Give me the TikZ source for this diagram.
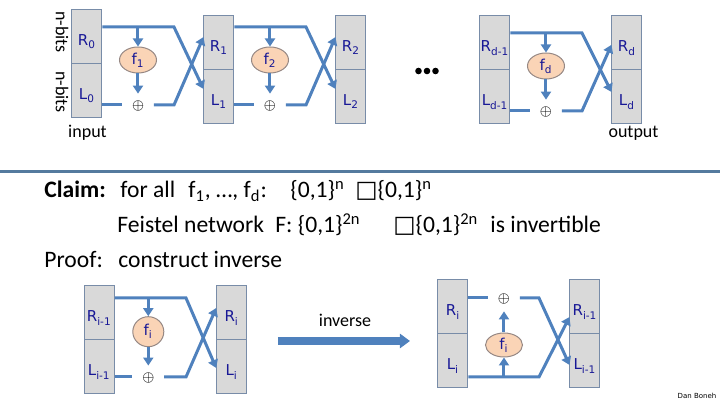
\documentclass[tikz,border=0pt]{standalone}
\usepackage{fontspec}
\setmainfont{Carlito}
\newfontfamily\regfont{DejaVu Sans}
\usepackage{xcolor}
\usetikzlibrary{positioning,arrows.meta,shapes.geometric,calc}

\definecolor{wireblue}{RGB}{79,129,189}
\definecolor{regfill}{RGB}{217,217,217}
\definecolor{regedge}{RGB}{120,140,168}
\definecolor{regtext}{RGB}{24,24,150}
\definecolor{ffill}{RGB}{250,212,182}
\definecolor{fedge}{RGB}{150,136,132}
\definecolor{sepblue}{RGB}{84,122,158}

\tikzset{
  reg/.style={draw=regedge, fill=regfill, line width=0.5pt,
              minimum width=15pt, minimum height=27pt, inner sep=0pt,
              text=regtext, font=\regfont\fontsize{7.5}{8}\selectfont,
              text height=9pt, text depth=0pt},
  fnode/.style={ellipse, draw=fedge, fill=ffill, line width=0.5pt,
                minimum width=18.5pt, minimum height=13pt, inner sep=0pt,
                text=regtext, font=\regfont\fontsize{7.5}{8}\selectfont},
  xor/.style={minimum width=15.5pt, minimum height=12pt, inner sep=0pt,
              font=\fontsize{7}{8}\selectfont},
  wire/.style={draw=wireblue, line width=1.5pt},
  arr/.style={wire, -{Triangle[length=4pt,width=5pt]}},
  claim/.style={anchor=base west, inner sep=0pt,
                font=\fontsize{11.8}{14}\selectfont},
  note/.style={inner sep=0pt, font=\fontsize{9}{10}\selectfont}
}

\begin{document}
\begin{tikzpicture}[x=0.5pt,y=-0.5pt]
  \useasboundingbox (0,0) rectangle (720,405);

  % forward network
  \node[note, rotate=-90] (nbr) at (62,32) {n-bits};
  \node[note, rotate=-90] (nbl) at (62,92) {n-bits};
  \node[reg] (r0) at (87,37) {R\textsubscript{0}};
  \node[reg] (l0) at (87,91) {L\textsubscript{0}};
  \node[reg] (r1) at (219,43) {R\textsubscript{1}};
  \node[reg] (l1) at (219,97) {L\textsubscript{1}};
  \node[reg] (r2) at (351,43) {R\textsubscript{2}};
  \node[reg] (l2) at (351,97) {L\textsubscript{2}};
  \node[reg] (rp) at (495,43) {R\textsubscript{d-1}};
  \node[reg] (lp) at (495,97) {L\textsubscript{d-1}};
  \node[reg] (rd) at (627,43) {R\textsubscript{d}};
  \node[reg] (ld) at (627,97) {L\textsubscript{d}};
  \node[note] (in) at (87.5,133) {input};
  \node[note] (out) at (633.5,133) {output};

  \foreach \a/\b/\k/\x/\dy in {0/1/1/102/0, 1/2/2/234/0, p/d/d/510/6} {
    \node[fnode] (f\k) at (\x+36,60+\dy) {f\textsubscript{\k}};
    \node[xor] (x\k) at (\x+36,106+\dy) {$\oplus$};
    \coordinate (tb\k) at (\x+72,27+\dy);
    \coordinate (bb\k) at (\x+72,105+\dy);
    \draw[arr] (r\a.east |- tb\k) -- (tb\k) -- ($(l\b.west)+(0,-8+0.5*\dy)$);
    \draw[arr] (f\k |- tb\k) -- (f\k.north);
    \draw[arr] (f\k.south) -- (x\k.north);
    \draw[wire] (l\a.east |- bb\k) -- (x\k.west |- bb\k);
    \draw[arr] (x\k.east |- bb\k) -- (bb\k) -- ($(r\b.west)+(0,-6+1.3*\dy)$);
  }
  \foreach \i in {0,1,2}
    \fill (418.5+8.5*\i,71) circle (3.3);

  % separator
  \coordinate (sepl) at (0,172);
  \coordinate (sepr) at (720,172);
  \draw[sepblue, line width=1.5pt] (sepl) -- (sepr);

  % claim
  \node[claim] (c1) at (44,198) {\textbf{Claim:}};
  \node[claim] (c2) at (120,198) {for all};
  \node[claim] (c3) at (188,198) {f\textsubscript{1}, …, f\textsubscript{d}:};
  \node[claim] (c4) at (290,198) {\{0,1\}\textsuperscript{n}};
  \node[claim] (c5) at (355,198) {{\regfont □}\{0,1\}\textsuperscript{n}};
  \node[claim] (c6) at (117,233) {Feistel network};
  \node[claim] (c7) at (275,233) {F: \{0,1\}\textsuperscript{2n}};
  \node[claim] (c8) at (393,233) {{\regfont □}\{0,1\}\textsuperscript{2n}};
  \node[claim] (c9) at (490,233) {is invertible};
  \node[claim] (c10) at (44,268) {Proof:};
  \node[claim] (c11) at (118,268) {construct inverse};

  % one round
  \node[reg] (ra) at (99.3,313) {R\textsubscript{i-1}};
  \node[reg] (la) at (99.3,367) {L\textsubscript{i-1}};
  \node[reg] (rb) at (231.7,313) {R\textsubscript{i}};
  \node[reg] (lb) at (231.7,367) {L\textsubscript{i}};
  \node[fnode, minimum width=15.5pt, minimum height=15pt] (fa) at (148.3,331.7) {f\textsubscript{i}};
  \node[xor] (xa) at (148.3,378) {$\oplus$};
  \coordinate (ta) at (186,298);
  \coordinate (ba) at (186,377);
  \draw[arr] (ra.east |- ta) -- (ta) -- ($(lb.west)+(0,1)$);
  \draw[arr] (fa |- ta) -- (fa.north);
  \draw[arr] (fa.south) -- (xa.north);
  \draw[wire] (la.east |- ba) -- (xa.west |- ba);
  \draw[arr] (xa.east |- ba) -- (ba) -- ($(rb.west)+(0,-5)$);

  % inverse arrow
  \node[note] (inv) at (345,320) {inverse};
  \coordinate (inva) at (278,341);
  \coordinate (invb) at (410,341);
  \draw[wireblue, line width=4pt, -{Triangle[length=5pt,width=7pt]}] (inva) -- (invb);

  % inverse round
  \node[reg] (rc) at (453,307) {R\textsubscript{i}};
  \node[reg] (lc) at (453,361) {L\textsubscript{i}};
  \node[reg] (re) at (585,307) {R\textsubscript{i-1}};
  \node[reg] (le) at (585,361) {L\textsubscript{i-1}};
  \node[fnode, minimum height=12pt] (fc) at (504,345) {f\textsubscript{i}};
  \node[xor] (xc) at (504,299) {$\oplus$};
  \coordinate (tc) at (539,298);
  \coordinate (bc) at (539,377);
  \draw[wire] (rc.east |- tc) -- (xc.west |- tc);
  \draw[arr] (xc.east |- tc) -- (tc) -- ($(le.west)+(0,4)$);
  \draw[arr] (lc.east |- bc) -- (bc) -- ($(re.west)+(0,10)$);
  \draw[arr] (fc |- bc) -- (fc.south);
  \draw[arr] (fc.north) -- (xc.south);

  \node[inner sep=0pt, font=\regfont\fontsize{3.5}{4}\selectfont] (sig) at (697,396) {Dan Boneh};
\end{tikzpicture}
\end{document}
